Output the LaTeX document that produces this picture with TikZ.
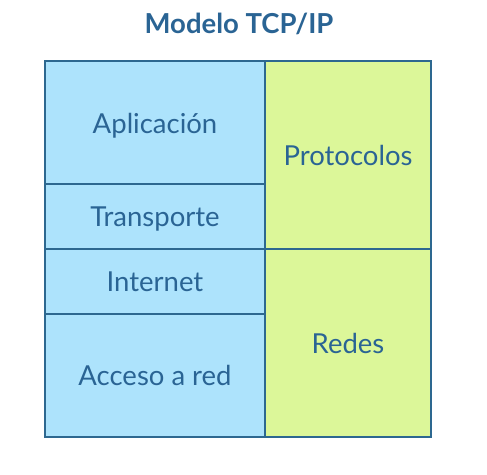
\documentclass[tikz,border=0pt]{standalone}
\usepackage{fontspec}
\setmainfont{Lato}
\definecolor{capaazul}{HTML}{ADE3FC}
\definecolor{capaverde}{HTML}{DCF799}
\definecolor{borde}{HTML}{2D6890}
\definecolor{letra}{HTML}{2A6494}
\newcommand{\bajar}[1]{\raisebox{-3pt}[\height][\depth]{#1}}
\begin{document}
\begin{tikzpicture}[x=1pt,y=-1pt,
    celda/.style={draw=borde,line width=2pt,inner sep=0pt,text=letra,font=\fontsize{27.5}{30}\selectfont},
    capa/.style={celda,fill=capaazul,minimum width=220pt},
    grupo/.style={celda,fill=capaverde,minimum width=166pt,minimum height=188pt}]
      \useasboundingbox (0,0) rectangle (487,474) ;
      \node[text=letra,font=\fontsize{27.5}{30}\selectfont\bfseries] (titulo) at (239,24) {Modelo TCP/IP} ;
      \node[capa,minimum height=123pt] (apl) at (155,122.5) {\bajar{Aplicación}} ;
      \node[capa,minimum height=65pt] (trans) at (155,216.5) {\bajar{Transporte}} ;
      \node[capa,minimum height=65pt] (inet) at (155,281.5) {Internet} ;
      \node[capa,minimum height=123pt] (acc) at (155,375.5) {Acceso a red} ;
      \node[grupo] (prot) at (348,155) {Protocolos} ;
      \node[grupo] (redes) at (348,343) {Redes} ;
    \end{tikzpicture}
\end{document}
